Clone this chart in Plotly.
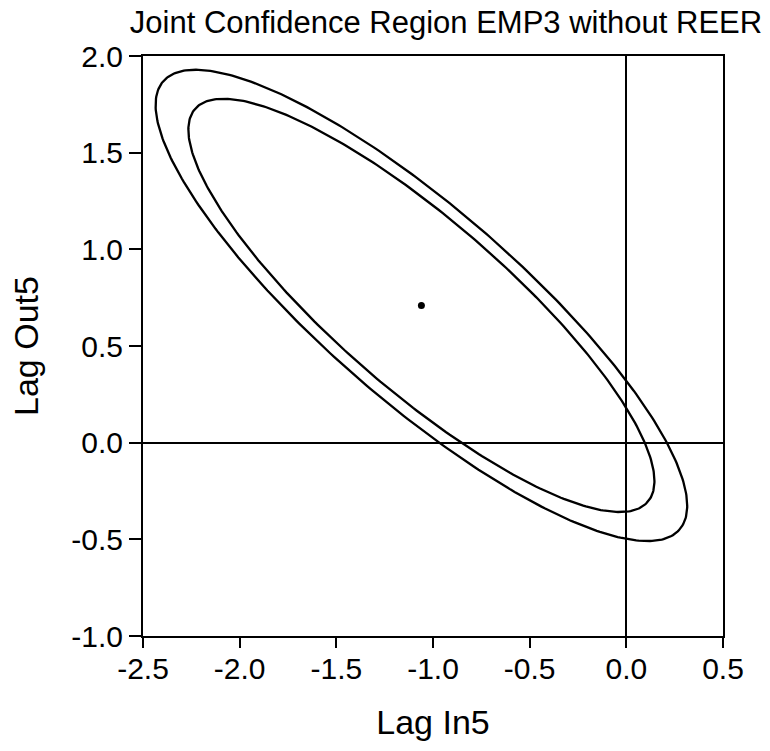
import numpy as np
import plotly.graph_objects as go

# Coefficient estimates and their sampling distribution
coef_in5 = -1.06
coef_out5 = 0.71
se_in5 = 0.5617
se_out5 = 0.498
corr = -0.85
conf_levels = [0.95, 0.90]

x_ticks = [-2.5, -2.0, -1.5, -1.0, -0.5, 0.0, 0.5]
y_ticks = [-1.0, -0.5, 0.0, 0.5, 1.0, 1.5, 2.0]

title_text = "Joint Confidence Region EMP3 without REER"
x_title = "Lag In5"
y_title = "Lag Out5"


def confidence_ellipse(level, n=400):
    """Boundary of the joint confidence region for a bivariate normal estimate."""
    cov = np.array([[se_in5 ** 2, corr * se_in5 * se_out5],
                    [corr * se_in5 * se_out5, se_out5 ** 2]])
    radius = np.sqrt(-2.0 * np.log(1.0 - level))
    chol = np.linalg.cholesky(cov)
    t = np.linspace(0, 2 * np.pi, n)
    circle = np.vstack([np.cos(t), np.sin(t)]) * radius
    pts = chol @ circle
    return coef_in5 + pts[0], coef_out5 + pts[1]


fig = go.Figure()

for lvl in conf_levels:
    ex, ey = confidence_ellipse(lvl)
    fig.add_trace(go.Scatter(x=ex, y=ey, mode="lines",
                             line=dict(color="black", width=2.3),
                             hoverinfo="skip", showlegend=False))

fig.add_trace(go.Scatter(x=[coef_in5], y=[coef_out5], mode="markers",
                         marker=dict(color="black", size=7),
                         showlegend=False))

font_family = "Liberation Sans, Arial, sans-serif"

fig.update_layout(
    width=770, height=751,
    margin=dict(l=143, r=47, t=56, b=115),
    paper_bgcolor="white", plot_bgcolor="white",
    font=dict(family=font_family, color="black", size=30),
    title=dict(text=title_text, x=446 / 770, xanchor="center",
               y=1 - 22 / 751, yanchor="middle",
               font=dict(size=31, family=font_family)),
    xaxis=dict(range=[-2.5, 0.5], tickvals=x_ticks,
               ticktext=[f"{v:.1f}" for v in x_ticks],
               ticks="outside", ticklen=10, tickwidth=2, tickcolor="black",
               ticklabelstandoff=-5,
               showline=True, linecolor="black", linewidth=2, mirror=True,
               showgrid=False, zeroline=True, zerolinecolor="black",
               zerolinewidth=1.5,
               title=dict(text=x_title, font=dict(size=34), standoff=26),
               tickfont=dict(size=30)),
    yaxis=dict(range=[-1.0, 2.0], tickvals=y_ticks,
               ticktext=[f"{v:.1f}" for v in y_ticks],
               ticks="outside", ticklen=12, tickwidth=2, tickcolor="black",
               showline=True, linecolor="black", linewidth=2, mirror=True,
               showgrid=False, zeroline=True, zerolinecolor="black",
               zerolinewidth=1.5,
               title=dict(text=y_title, font=dict(size=34), standoff=22),
               tickfont=dict(size=30)),
)

fig.write_html("out.html")
